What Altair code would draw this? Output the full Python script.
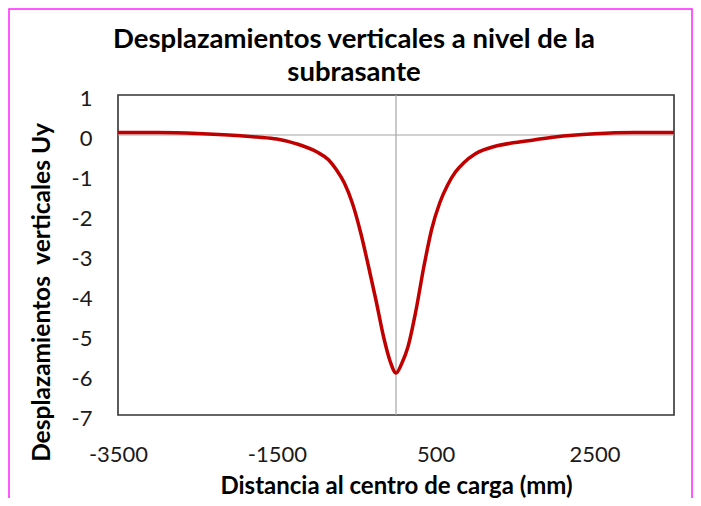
import altair as alt
import pandas as pd

# Distance to load centre (mm) and vertical displacement Uy
x_mm = [-3500, -3000, -2500, -2000, -1750, -1500, -1250, -1000, -850, -750, -650,
        -550, -450, -350, -250, -150, -75, 0, 75, 150, 250, 350, 450, 550, 650,
        750, 850, 1000, 1250, 1500, 1750, 2000, 2500, 3000, 3500]
uy = [0.06, 0.06, 0.04, -0.01, -0.05, -0.10, -0.22, -0.42, -0.62, -0.87, -1.2,
      -1.7, -2.4, -3.25, -4.15, -5.1, -5.65, -5.95, -5.7, -5.3, -4.4, -3.3, -2.35,
      -1.7, -1.25, -0.92, -0.7, -0.47, -0.28, -0.19, -0.12, -0.05, 0.03, 0.06, 0.06]

x_ticks = [-3500, -1500, 500, 2500]
y_ticks = [1, 0, -1, -2, -3, -4, -5, -6, -7]

title_lines = ["Desplazamientos verticales a nivel de la", "subrasante"]
x_title = "Distancia al centro de carga (mm)"
y_title = "Desplazamientos\u00a0 verticales Uy"

df = pd.DataFrame({"x": x_mm, "uy": uy})
zero_y = pd.DataFrame({"uy": [0]})
zero_x = pd.DataFrame({"x": [0]})
one = pd.DataFrame({"a": [0]})

FONT = "Lato"
W, H = 556, 320
PAD_L, PAD_T, PAD_R, PAD_B = 110, 87, 19, 83

label_expr = "datum.value < 0 ? '-' + abs(datum.value) : '' + datum.value"

xscale = alt.Scale(domain=[-3500, 3500], nice=False, zero=False)
yscale = alt.Scale(domain=[-7, 1], nice=False, zero=False)

x_axis = alt.Axis(values=x_ticks, title=x_title, grid=False, domain=False,
                  ticks=False, labelPadding=29, labelFontSize=22,
                  labelFont=FONT, labelColor="#1a1a1a", labelExpr=label_expr,
                  labelOverlap=False, labelFlush=False,
                  titleFont=FONT, titleFontSize=24, titleFontWeight="bold",
                  titleColor="#000000", titleY=71, titleBaseline="middle")
y_axis = alt.Axis(values=y_ticks, title=y_title, grid=False, domain=False,
                  ticks=False, labelPadding=26, labelFontSize=22,
                  labelFont=FONT, labelColor="#1a1a1a", labelExpr=label_expr,
                  labelOverlap=False, labelFlush=False, labelOffset=3,
                  titleFont=FONT, titleFontSize=24.5, titleFontWeight="bold",
                  titleColor="#000000", titleX=-76, titleY=197,
                  titleAlign="center", titleBaseline="middle")

curve = alt.Chart(df).mark_line(
    color="#C00000", strokeWidth=3.5, interpolate="monotone"
).encode(
    x=alt.X("x:Q", scale=xscale, axis=x_axis),
    y=alt.Y("uy:Q", scale=yscale, axis=y_axis),
)

hrule = alt.Chart(zero_y).mark_rule(color="#a6a6a6", strokeWidth=1.2).encode(
    y=alt.Y("uy:Q", scale=yscale, axis=y_axis)
)
vrule = alt.Chart(zero_x).mark_rule(color="#a6a6a6", strokeWidth=1.2).encode(
    x=alt.X("x:Q", scale=xscale, axis=x_axis)
)

border = alt.Chart(one).mark_rect(
    fill="transparent", stroke="#ff22ff", strokeWidth=1.5
).encode(
    x=alt.value(-PAD_L + 1), x2=alt.value(W + PAD_R - 1),
    y=alt.value(-PAD_T + 1), y2=alt.value(H + PAD_B + 40)
)

title_style = dict(font=FONT, fontSize=27.5, fontWeight="bold", color="#000000",
                   align="center", baseline="middle")
title1 = alt.Chart(one).mark_text(text=title_lines[0], **title_style).encode(
    x=alt.value(W / 2 - 42), y=alt.value(-55)
)
title2 = alt.Chart(one).mark_text(text=title_lines[1], **title_style).encode(
    x=alt.value(W / 2 - 42), y=alt.value(-22)
)

chart = alt.layer(border, hrule, vrule, curve, title1, title2).properties(
    width=W, height=H,
    autosize=alt.AutoSizeParams(type="none"),
    padding={"left": PAD_L, "top": PAD_T, "right": PAD_R, "bottom": PAD_B},
    background="white",
).configure_view(stroke="#333333", strokeWidth=1.6)

chart.save("out.html", embed_options={"renderer": "svg", "actions": False})
